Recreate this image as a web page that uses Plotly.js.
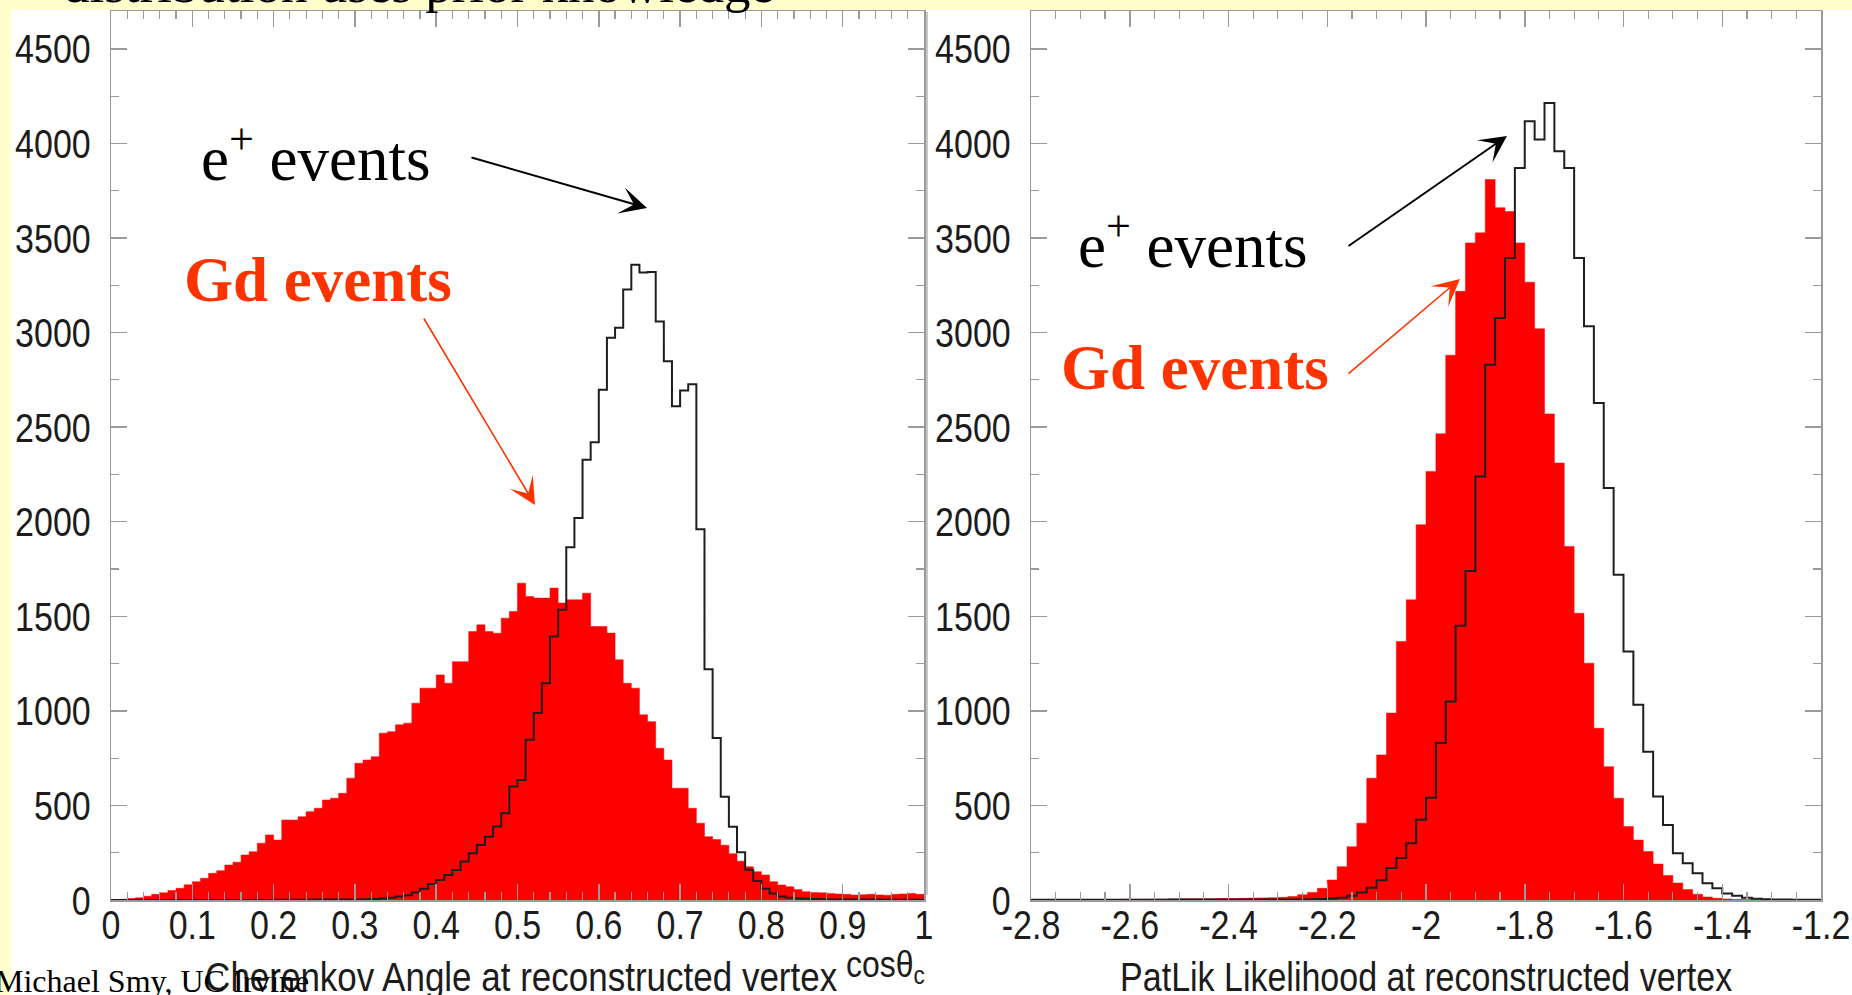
<!DOCTYPE html>
<html>
<head>
<meta charset="utf-8">
<script src="https://cdn.plot.ly/plotly-3.0.1.min.js"></script>
<style>
html,body{margin:0;padding:0;background:#ffffff;overflow:hidden;}
#chart{width:1852px;height:995px;}
</style>
</head>
<body>
<div id="chart"></div>
<script>
// ---------------- data ----------------
// Left panel: Cherenkov angle (cos theta_c), 100 bins of 0.01 from 0 to 1
const cosLow = 0;
const cosBinWidth = 0.01;
const cosGdCounts = [
  2, 4, 8, 12, 20, 30, 38, 50, 62, 80,
  97, 115, 141, 155, 185, 200, 238, 255, 300, 344,
  317, 423, 423, 440, 467, 485, 529, 538, 564, 644,
  723, 740, 758, 882, 890, 926, 935, 1040, 1120, 1120,
  1190, 1146, 1260, 1260, 1419, 1455, 1419, 1410, 1490, 1525,
  1675, 1605, 1596, 1596, 1649, 1570, 1587, 1587, 1622, 1446,
  1446, 1411, 1270, 1146, 1120, 979, 943, 802, 740, 591,
  591, 485, 406, 335, 320, 290, 245, 205, 176, 150,
  132, 97, 79, 70, 56, 44, 40, 38, 35, 32,
  30, 26, 28, 30, 27, 25, 30, 32, 35, 30
];
const cosPositronCounts = [
  0, 0, 0, 0, 0, 0, 0, 0, 0, 0,
  0, 0, 0, 0, 0, 0, 0, 0, 0, 0,
  1, 1, 1, 1, 1, 2, 2, 2, 2, 3,
  3, 4, 5, 8, 12, 18, 25, 40, 60, 85,
  106, 132, 159, 203, 247, 291, 335, 388, 458, 600,
  635, 847, 988, 1146, 1393, 1534, 1865, 2020, 2328, 2420,
  2698, 2972, 3025, 3227, 3359, 3318, 3320, 3059, 2848, 2610,
  2694, 2727, 1960, 1220, 857, 546, 387, 252, 160, 100,
  60, 35, 18, 12, 8, 6, 5, 4, 3, 3,
  2, 2, 2, 2, 2, 1, 1, 1, 1, 1
];
// Right panel: PatLik likelihood, 80 bins of 0.02 from -2.8 to -1.2
const likLow = -2.8;
const likBinWidth = 0.02;
const likGdCounts = [
  2, 2, 2, 2, 3, 3, 3, 3, 3, 4,
  4, 4, 5, 5, 5, 6, 6, 7, 7, 8,
  8, 9, 10, 11, 12, 14, 18, 28, 40, 62,
  106, 176, 282, 406, 644, 767, 988, 1367, 1587, 1984,
  2266, 2465, 2880, 3218, 3474, 3527, 3809, 3660, 3640, 3474,
  3266, 3020, 2570, 2310, 1869, 1516, 1252, 908, 705, 538,
  388, 317, 256, 190, 130, 90, 55, 30, 16, 9,
  5, 3, 2, 1, 1, 1, 0, 0, 0, 0
];
const likPositronCounts = [
  1, 1, 1, 1, 1, 1, 1, 1, 1, 1,
  1, 1, 1, 1, 2, 2, 2, 2, 2, 2,
  2, 2, 2, 3, 3, 3, 3, 3, 4, 5,
  8, 12, 22, 40, 65, 105, 169, 222, 300, 424,
  540, 830, 1049, 1450, 1740, 2239, 2830, 3077, 3394, 3870,
  4117, 4020, 4214, 3958, 3870, 3394, 3033, 2627, 2178, 1720,
  1314, 1032, 784, 547, 397, 247, 194, 141, 88, 62,
  35, 22, 12, 7, 4, 3, 2, 1, 1, 1
];
// tick labels
const cosTickVals = [0, 0.1, 0.2, 0.3, 0.4, 0.5, 0.6, 0.7, 0.8, 0.9, 1];
const cosTickText = ['0', '0.1', '0.2', '0.3', '0.4', '0.5', '0.6', '0.7', '0.8', '0.9', '1'];
const likTickVals = [-2.8, -2.6, -2.4, -2.2, -2.0, -1.8, -1.6, -1.4, -1.2];
const likTickText = ['-2.8', '-2.6', '-2.4', '-2.2', '-2', '-1.8', '-1.6', '-1.4', '-1.2'];
const countTickVals = [0, 500, 1000, 1500, 2000, 2500, 3000, 3500, 4000, 4500];
const countTickText = ['0', '500', '1000', '1500', '2000', '2500', '3000', '3500', '4000', '4500'];
// texts
const headerText = 'distribution uses prior knowledge';
const positronLabel = 'e<sup>+</sup> events';
const gdLabel = 'Gd events';
const cosAxisTitle = 'Cherenkov Angle at reconstructed vertex';
const cosUnitLabel = 'cos\u03b8<sub>c</sub>';
const likAxisTitle = 'PatLik Likelihood at reconstructed vertex';
const footerText = 'Michael Smy, UC Irvine';

// ---------------- helpers ----------------
const W = 1852, H = 995;
const px = v => v / W;
const py = v => 1 - v / H;

function stepXY(low, width, counts) {
  const x = [], y = [];
  for (let i = 0; i < counts.length; i++) {
    x.push(low + i * width);
    y.push(counts[i]);
  }
  x.push(low + counts.length * width);
  y.push(counts[counts.length - 1]);
  return {x, y};
}

const cosGd = stepXY(cosLow, cosBinWidth, cosGdCounts);
const cosPos = stepXY(cosLow, cosBinWidth, cosPositronCounts);
const likGd = stepXY(likLow, likBinWidth, likGdCounts);
const likPos = stepXY(likLow, likBinWidth, likPositronCounts);

const RED = '#ff0000';
const LINE = '#1e1e1e';

const traces = [
  {x: cosGd.x, y: cosGd.y, xaxis: 'x', yaxis: 'y', type: 'scatter', mode: 'lines',
   line: {shape: 'hv', width: 0.5, color: RED}, fill: 'tozeroy', fillcolor: RED, hoverinfo: 'skip'},
  {x: cosPos.x, y: cosPos.y, xaxis: 'x', yaxis: 'y', type: 'scatter', mode: 'lines',
   line: {shape: 'hv', width: 2, color: LINE}, hoverinfo: 'skip'},
  {x: likGd.x, y: likGd.y, xaxis: 'x2', yaxis: 'y2', type: 'scatter', mode: 'lines',
   line: {shape: 'hv', width: 0.5, color: RED}, fill: 'tozeroy', fillcolor: RED, hoverinfo: 'skip'},
  {x: likPos.x, y: likPos.y, xaxis: 'x2', yaxis: 'y2', type: 'scatter', mode: 'lines',
   line: {shape: 'hv', width: 2, color: LINE}, hoverinfo: 'skip'}
];

const FRAME = '#9a9a9a';
const tickFont = {family: 'Liberation Sans, Arial, sans-serif', size: 34, color: '#1c1c1c'};

function xAxis(domain, range, vals, text, minorStep) {
  return {
    domain, range, tickmode: 'array', tickvals: vals, ticktext: text,
    ticks: 'inside', ticklen: 16, tickwidth: 1.5, tickcolor: FRAME,
    minor: {dtick: minorStep, tick0: range[0], ticks: 'inside', ticklen: 8, tickwidth: 1.2, tickcolor: FRAME, showgrid: false},
    showline: true, linecolor: FRAME, linewidth: 1.5, mirror: 'ticks',
    showgrid: false, zeroline: false, tickfont: tickFont, ticklabelstandoff: -6,
    fixedrange: true
  };
}
function yAxis(domain) {
  return {
    domain, range: [0, 4700], tickmode: 'array', tickvals: countTickVals, ticktext: countTickText,
    ticks: 'inside', ticklen: 16, tickwidth: 1.5, tickcolor: FRAME,
    minor: {dtick: 250, tick0: 0, ticks: 'inside', ticklen: 8, tickwidth: 1.2, tickcolor: FRAME, showgrid: false},
    showline: true, linecolor: FRAME, linewidth: 1.5, mirror: 'ticks',
    showgrid: false, zeroline: false, tickfont: tickFont, ticklabelstandoff: 12,
    fixedrange: true
  };
}

const yDomain = [1 - 900 / H, 1 - 11 / H];

const serif = 'Liberation Serif, Times New Roman, serif';
const sans = 'Liberation Sans, Arial, sans-serif';
const GDCOL = '#ff3300';

function arrow(tailX, tailY, tipX, tipY, color, width, size) {
  return {
    xref: 'paper', yref: 'paper', x: px(tipX), y: py(tipY),
    ax: tailX - tipX, ay: tailY - tipY, axref: 'pixel', ayref: 'pixel',
    text: '', showarrow: true, arrowhead: 3, arrowsize: size, arrowwidth: width,
    arrowcolor: color, standoff: 0, startstandoff: 0
  };
}
function label(text, x, y, font, xanchor, yanchor) {
  return {xref: 'paper', yref: 'paper', x: px(x), y: py(y), text, showarrow: false,
          xanchor, yanchor, font, borderpad: 0};
}

const annotations = [
  label(headerText, 62, 14, {family: serif, size: 53, color: '#000'}, 'left', 'bottom'),
  label(positronLabel, 200, 195, {family: serif, size: 63, color: '#000'}, 'left', 'bottom'),
  label(gdLabel, 183, 316, {family: serif, size: 63, color: GDCOL, weight: 'bold'}, 'left', 'bottom'),
  label(positronLabel, 1077, 282, {family: serif, size: 63, color: '#000'}, 'left', 'bottom'),
  label(gdLabel, 1060, 404, {family: serif, size: 63, color: GDCOL, weight: 'bold'}, 'left', 'bottom'),
  arrow(470, 157, 647, 208, '#000', 2, 2.25),
  arrow(423, 317, 535, 505, GDCOL, 1.6, 2.8),
  arrow(1347, 247, 1507, 136, '#000', 2, 2.25),
  arrow(1347, 375, 1460, 279, GDCOL, 1.6, 2.8),
  label(cosUnitLabel, 926, 988, {family: sans, size: 32, color: '#1c1c1c'}, 'right', 'bottom'),
  label(cosAxisTitle, 521, 997, {family: sans, size: 35, color: '#1c1c1c'}, 'center', 'bottom'),
  label(likAxisTitle, 1426, 997, {family: sans, size: 34, color: '#1c1c1c'}, 'center', 'bottom'),
  label(footerText, -6, 1000, {family: serif, size: 32, color: '#000'}, 'left', 'bottom')
];

const YELLOW = '#ffffcc';
const shapes = [
  {type: 'rect', xref: 'paper', yref: 'paper', x0: 0, x1: px(11), y0: 0, y1: 1,
   fillcolor: YELLOW, line: {width: 0}, layer: 'below'},
  {type: 'rect', xref: 'paper', yref: 'paper', x0: 0, x1: 1, y0: py(10), y1: 1,
   fillcolor: YELLOW, line: {width: 0}, layer: 'below'},
  {type: 'line', xref: 'paper', yref: 'paper', x0: px(927), x1: px(927), y0: py(12), y1: py(895),
   line: {color: '#c8c8c8', width: 2}, layer: 'below'}
];

const layout = {
  width: W, height: H, autosize: false,
  margin: {l: 0, r: 0, t: 0, b: 0, pad: 0},
  paper_bgcolor: '#ffffff', plot_bgcolor: '#ffffff',
  showlegend: false,
  xaxis: Object.assign(xAxis([111 / W, 924 / W], [0, 1], cosTickVals, cosTickText, 0.02), {anchor: 'y'}),
  yaxis: Object.assign(yAxis(yDomain), {anchor: 'x'}),
  xaxis2: Object.assign(xAxis([1031 / W, 1821 / W], [-2.8, -1.2], likTickVals, likTickText, 0.05), {anchor: 'y2'}),
  yaxis2: Object.assign(yAxis(yDomain), {anchor: 'x2'}),
  annotations, shapes
};

// The original ROOT figure was stretched vertically; reproduce that on its texts.
function stretchText(nodes, k) {
  nodes.forEach(t => {
    const b = t.getBBox();
    const cx = b.x + b.width / 2, cy = b.y + b.height / 2;
    const prev = t.getAttribute('transform') || '';
    t.setAttribute('transform', prev + ' translate(' + cx + ',' + cy + ') scale(1,' + k + ') translate(' + (-cx) + ',' + (-cy) + ')');
  });
}

Plotly.newPlot('chart', traces, layout, {staticPlot: true, displayModeBar: false}).then(gd => {
  stretchText(gd.querySelectorAll('.xtick text, .x2tick text, .ytick text, .y2tick text'), 1.22);
  const idx = [9, 10, 11];
  const annNodes = [];
  idx.forEach(i => {
    const n = gd.querySelector('.annotation[data-index="' + i + '"] text');
    if (n) annNodes.push(n);
  });
  stretchText(annNodes, 1.18);
});
</script>
</body>
</html>
